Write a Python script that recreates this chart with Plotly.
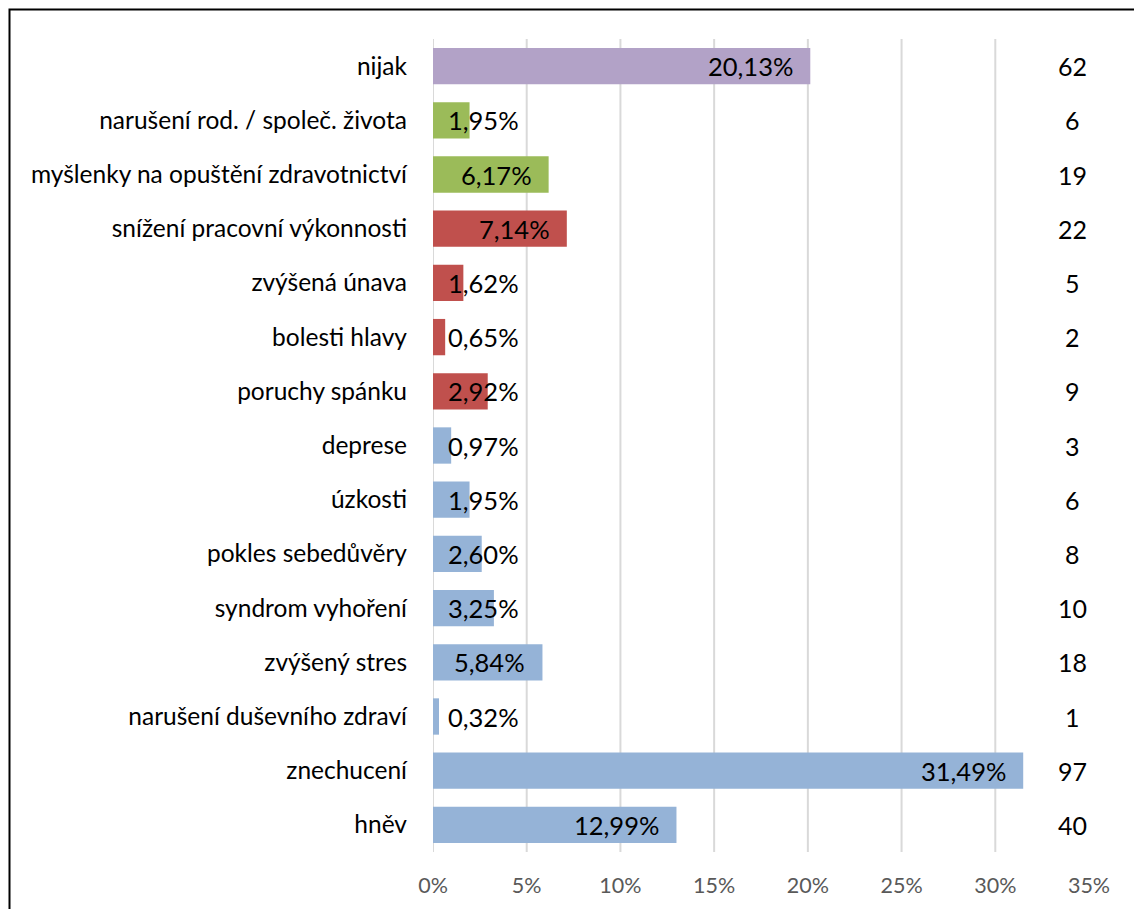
import plotly.graph_objects as go

categories = [
    "nijak",
    "narušení rod. / společ. života",
    "myšlenky na opuštění zdravotnictví",
    "snížení pracovní výkonnosti",
    "zvýšená únava",
    "bolesti hlavy",
    "poruchy spánku",
    "deprese",
    "úzkosti",
    "pokles sebedůvěry",
    "syndrom vyhoření",
    "zvýšený stres",
    "narušení duševního zdraví",
    "znechucení",
    "hněv",
]
percent_values = [20.13, 1.95, 6.17, 7.14, 1.62, 0.65, 2.92, 0.97, 1.95, 2.60, 3.25, 5.84, 0.32, 31.49, 12.99]
counts = [62, 6, 19, 22, 5, 2, 9, 3, 6, 8, 10, 18, 1, 97, 40]
groups = ["other", "social", "social", "physical", "physical", "physical", "physical",
          "mental", "mental", "mental", "mental", "mental", "mental", "mental", "mental"]
group_colors = {"other": "#B2A2C7", "social": "#9BBB59", "physical": "#C0504D", "mental": "#95B3D7"}
tick_values = [0, 5, 10, 15, 20, 25, 30, 35]
grid_values = [0, 5, 10, 15, 20, 25, 30]

FONT = "Lato"
W, H = 1134, 909
ML, MR, MT, MB = 433, 45, 39, 57
PW = W - ML - MR
PH = H - MT - MB
XMAX = 35.0
px_per_unit = PW / XMAX

fig = go.Figure()
fig.add_trace(go.Bar(
    x=percent_values,
    y=categories,
    orientation="h",
    marker=dict(color=[group_colors[g] for g in groups], line=dict(width=0)),
    width=0.67,
    hoverinfo="skip",
))

annotations = []
label_px = 72  # approx label width in px
for cat, v in zip(categories, percent_values):
    txt = f"{v:.2f}".replace(".", ",") + "%"
    if v * px_per_unit > label_px + 31:
        annotations.append(dict(x=v, y=cat, xref="x", yref="y", text=txt, showarrow=False,
                                xanchor="right", xshift=-15, font=dict(family=FONT, size=25.5, color="#000000")))
    else:
        annotations.append(dict(x=0, y=cat, xref="x", yref="y", text=txt, showarrow=False,
                                xanchor="left", xshift=13, font=dict(family=FONT, size=25.5, color="#000000")))
for cat, c in zip(categories, counts):
    annotations.append(dict(x=(1072 - ML) / PW, y=cat, xref="paper", yref="y", text=str(c), showarrow=False,
                            xanchor="center", font=dict(family=FONT, size=25, color="#000000")))

shapes = []
for g in grid_values:
    shapes.append(dict(type="line", xref="x", yref="paper", x0=g, x1=g, y0=0, y1=1,
                       line=dict(color="#D9D9D9", width=2), layer="below"))
# outer frame
shapes.append(dict(type="rect", xref="paper", yref="paper",
                   x0=(9.5 - ML) / PW, x1=(1145 - ML) / PW,
                   y0=(PH + MT - 920) / PH, y1=(PH + MT - 9.5) / PH,
                   line=dict(color="#000000", width=2), fillcolor="rgba(0,0,0,0)"))

fig.update_layout(
    width=W, height=H,
    margin=dict(l=ML, r=MR, t=MT, b=MB),
    paper_bgcolor="white", plot_bgcolor="white",
    showlegend=False,
    annotations=annotations,
    shapes=shapes,
    bargap=0.33,
    xaxis=dict(range=[0, XMAX], tickvals=tick_values,
               ticktext=[f"{t}%" for t in tick_values], showgrid=False, zeroline=False,
               showline=False, ticks="", ticklabelstandoff=18,
               tickfont=dict(family=FONT, size=21.5, color="#595959")),
    yaxis=dict(autorange="reversed", showgrid=False, zeroline=False, showline=False, ticks="",
               ticklabelstandoff=25,
               tickfont=dict(family=FONT, size=24.5, color="#000000")),
)

fig.write_html("out.html")
